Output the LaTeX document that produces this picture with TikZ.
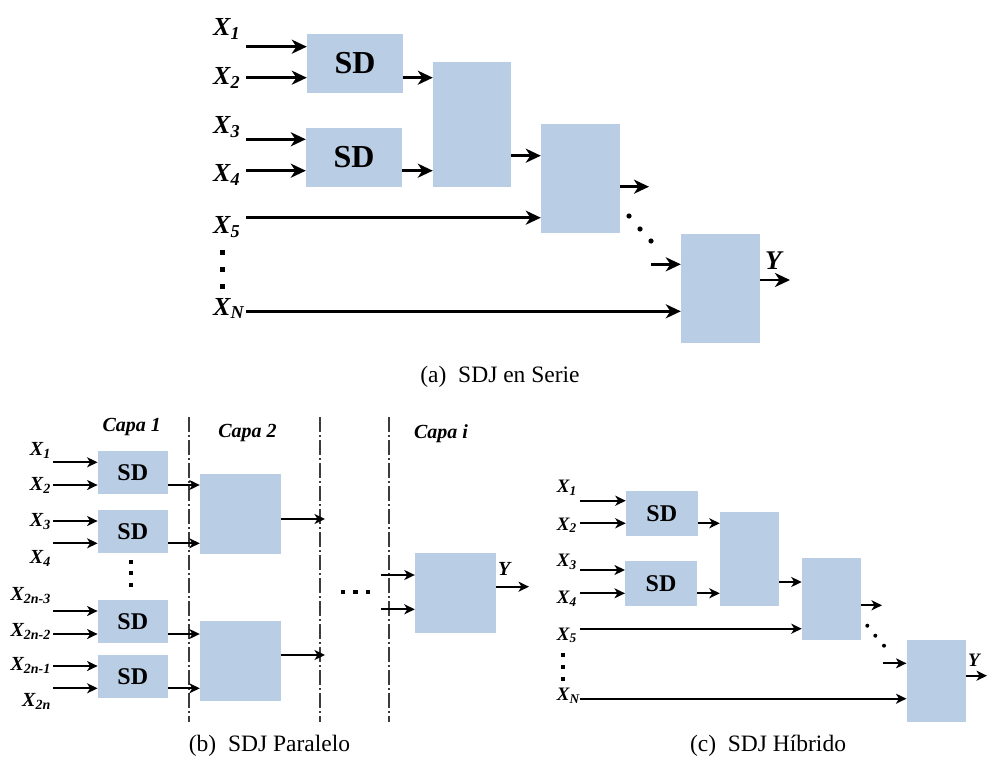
\documentclass[tikz,border=0pt]{standalone}
\usepackage{fontspec}
\setmainfont{Liberation Serif}
\usetikzlibrary{arrows.meta}
\definecolor{boxblue}{RGB}{185,205,229}
\definecolor{layergray}{RGB}{60,60,60}
\newcommand{\xsub}[1]{X\textsubscript{#1}}

\begin{document}
\begin{tikzpicture}[x=1pt,y=-1pt,
    blk/.style={fill=boxblue, inner sep=0pt},
    sdA/.style={blk, minimum width=96pt, minimum height=59pt, font=\fontsize{32}{34}\selectfont\bfseries},
    sdB/.style={blk, minimum width=70pt, minimum height=43.3pt, font=\fontsize{24}{26}\selectfont\bfseries},
    sdC/.style={blk, minimum width=71.7pt, minimum height=44.7pt, font=\fontsize{24}{26}\selectfont\bfseries},
    arrA/.style={-{Stealth[length=15pt,width=14pt,inset=4.5pt]}, line width=2.6pt},
    arrB/.style={-{Stealth[length=10.5pt,width=10pt,inset=3pt]}, line width=1.8pt},
    labA/.style={font=\fontsize{26}{28}\selectfont\bfseries\itshape, inner sep=0pt},
    labB/.style={font=\fontsize{20}{22}\selectfont\bfseries\itshape, inner sep=0pt},
    labC/.style={font=\fontsize{19}{21}\selectfont\bfseries\itshape, inner sep=0pt},
    capt/.style={font=\fontsize{23.5}{26}\selectfont, inner sep=0pt},
    layer/.style={draw=layergray, line width=1.6pt, dash pattern=on 15pt off 3pt on 1.5pt off 3.5pt}
]
\useasboundingbox (0,0) rectangle (987,765);

% (a) SDJ en Serie
\node[sdA] (sdA1) at (355,63.5) {SD};
\node[sdA] (sdA2) at (354,157.5) {SD};
\node[blk, minimum width=78pt, minimum height=125pt] (bA2) at (472,124.5) {};
\node[blk, minimum width=79pt, minimum height=109pt] (bA3) at (580.5,178.5) {};
\node[blk, minimum width=79pt, minimum height=109pt] (bA4) at (720.5,288.5) {};

\foreach \s/\b/\y/\k [count=\i] in {1/35.7/46.7/sdA1, 2/85/77.7/sdA1, 3/133.3/139.3/sdA2, 4/181.7/170.7/sdA2, 5/233.3/217.7/bA3, N/315/311.3/bA4} {
  \node[labA, anchor=base west] (xA\s) at (213,\b) {\xsub{\s}};
  \coordinate (iA\i) at (246,\y);
  \draw[arrA] (iA\i) -- (iA\i -| \k.west);
}
\draw[arrA] (sdA1.east |- iA2) -- (bA2.west |- iA2);
\draw[arrA] (sdA2.east |- iA4) -- (bA2.west |- iA4);
\draw[arrA] (bA2.east |- 0,155.7) -- (bA3.west |- 0,155.7);
\coordinate (oA3) at (649,186.7);
\draw[arrA] (bA3.east |- oA3) -- (oA3);
\coordinate (iA7) at (651,264.3);
\draw[arrA] (iA7) -- (iA7 -| bA4.west);
\coordinate (oA4) at (790,280);
\draw[arrA] (bA4.east |- oA4) -- (oA4);
\node[labA, font=\fontsize{27}{28}\selectfont\bfseries\itshape, anchor=base west] (yA) at (765,269.3) {Y};

\foreach \p in {(629,216),(640,229),(651,241)} \fill \p circle (2.6);
\foreach \y in {252,269,286} \fill (220.2,\y-2.5) rectangle ++(5,5);

\node[capt] (capA) at (500,377) {(a)\enspace SDJ en Serie};

% (b) SDJ Paralelo
\node[sdB] (sdB1) at (132.8,472.7) {SD};
\node[sdB] (sdB2) at (132.8,531.7) {SD};
\node[sdB] (sdB3) at (132.8,621.7) {SD};
\node[sdB] (sdB4) at (132.8,676.7) {SD};
\node[blk, minimum width=81pt, minimum height=80pt] (lB1) at (240.5,514) {};
\node[blk, minimum width=81pt, minimum height=80pt] (lB2) at (240.5,660.8) {};
\node[blk, minimum width=81pt, minimum height=80pt] (lBi) at (455.5,592.7) {};

\draw[layer] (189,417) -- (189,722);
\draw[layer] (320,417) -- (320,722);
\draw[layer] (389,417) -- (389,722);

\node[labB, anchor=base] (capa1) at (131.7,431.7) {Capa 1};
\node[labB, anchor=base] (capa2) at (247.5,437.7) {Capa 2};
\node[labB, anchor=base] (capai) at (441,438) {Capa i};

\foreach \s/\b/\y/\k [count=\i] in {1/455/462.3/sdB1, 2/490.7/485/sdB1, 3/526.7/521/sdB2, 4/563.3/543.3/sdB2, 2n-3/600/611/sdB3, 2n-2/636/634/sdB3, 2n-1/670/666/sdB4, 2n/706.7/688.3/sdB4} {
  \node[labB, anchor=base east] (xB\i) at (51,\b) {\xsub{\s}};
  \coordinate (iB\i) at (53,\y);
  \draw[arrB] (iB\i) -- (iB\i -| \k.west);
}
\draw[arrB] (sdB1.east |- iB2) -- (lB1.west |- iB2);
\draw[arrB] (sdB2.east |- iB4) -- (lB1.west |- iB4);
\draw[arrB] (sdB3.east |- iB6) -- (lB2.west |- iB6);
\draw[arrB] (sdB4.east |- iB8) -- (lB2.west |- iB8);
\coordinate (oB1) at (325,519);
\coordinate (oB2) at (325,655);
\draw[arrB] (lB1.east |- oB1) -- (oB1);
\draw[arrB] (lB2.east |- oB2) -- (oB2);
\coordinate (iBi1) at (381,575);
\coordinate (iBi2) at (381,609.3);
\draw[arrB] (iBi1) -- (iBi1 -| lBi.west);
\draw[arrB] (iBi2) -- (iBi2 -| lBi.west);
\coordinate (oBi) at (529,586.7);
\draw[arrB] (lBi.east |- oBi) -- (oBi);
\node[labB, anchor=base west] (yB) at (498,575) {Y};

\foreach \y in {561.7,573,585} \fill (129,\y-2) rectangle ++(4.2,4.2);
\foreach \x in {343,355.5,368} \fill (\x-2.2,589.5) rectangle ++(4.5,4.5);

\node[capt] (capB) at (269.5,746) {(b)\enspace SDJ Paralelo};

% (c) SDJ Hibrido
\node[sdC] (sdC1) at (661.8,513.3) {SD};
\node[sdC] (sdC2) at (661,583.3) {SD};
\node[blk, minimum width=59pt, minimum height=93.7pt] (bC2) at (749.5,558.8) {};
\node[blk, minimum width=58.7pt, minimum height=81.7pt] (bC3) at (831.3,598.8) {};
\node[blk, minimum width=59.3pt, minimum height=81.7pt] (bC4) at (936.3,680.8) {};

\foreach \s/\b/\y/\k [count=\i] in {1/492.3/500.7/sdC1, 2/530/523.3/sdC1, 3/566.7/570/sdC2, 4/603.3/593.3/sdC2, 5/640/628.7/bC3, N/700.7/698.7/bC4} {
  \node[labC, anchor=base west] (xC\s) at (556.7,\b) {\xsub{\s}};
  \coordinate (iC\i) at (580,\y);
  \draw[arrB] (iC\i) -- (iC\i -| \k.west);
}
\draw[arrB] (sdC1.east |- iC2) -- (bC2.west |- iC2);
\draw[arrB] (sdC2.east |- iC4) -- (bC2.west |- iC4);
\draw[arrB] (bC2.east |- 0,582) -- (bC3.west |- 0,582);
\coordinate (oC3) at (882,605.3);
\draw[arrB] (bC3.east |- oC3) -- (oC3);
\coordinate (iC7) at (883,663.3);
\draw[arrB] (iC7) -- (iC7 -| bC4.west);
\coordinate (oC4) at (987,675.7);
\draw[arrB] (bC4.east |- oC4) -- (oC4);
\node[labC, anchor=base west] (yC) at (968,666.7) {Y};

\foreach \p in {(867.3,625.7),(875.3,635.7),(884,645.7)} \fill \p circle (2);
\foreach \y in {655,667,679} \fill (560.5,\y-2.2) rectangle ++(4.5,4.5);

\node[capt] (capC) at (768,746) {(c)\enspace SDJ Híbrido};
\end{tikzpicture}
\end{document}
